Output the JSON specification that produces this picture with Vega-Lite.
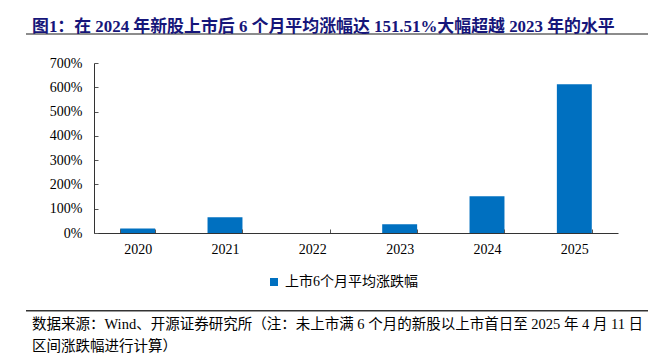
{
  "$schema": "https://vega.github.io/schema/vega-lite/v6.json",
  "padding": {"left": 26, "top": 18, "right": 0, "bottom": 0},
  "background": "white",
  "config": {
    "view": {"stroke": null},
    "font": "Liberation Serif, Noto Sans CJK SC",
    "concat": {"spacing": 21}
  },
  "resolve": {"legend": {"color": "independent"}, "scale": {"color": "independent"}},
  "datasets": {
    "ipo": [
      {"year": "2020", "change": 19, "series": "上市6个月平均涨跌幅"},
      {"year": "2021", "change": 65, "series": "上市6个月平均涨跌幅"},
      {"year": "2022", "change": 0, "series": "上市6个月平均涨跌幅"},
      {"year": "2023", "change": 36, "series": "上市6个月平均涨跌幅"},
      {"year": "2024", "change": 151.51, "series": "上市6个月平均涨跌幅"},
      {"year": "2025", "change": 612, "series": "上市6个月平均涨跌幅"}
    ],
    "empty": []
  },
  "vconcat": [
    {
      "width": 622,
      "height": 2,
      "view": {"fill": "#8c8c8c", "stroke": null},
      "title": {
        "text": "图1：在 2024 年新股上市后 6 个月平均涨幅达 151.51%大幅超越 2023 年的水平",
        "anchor": "start",
        "dx": 6,
        "fontSize": 16.9,
        "fontWeight": "bold",
        "color": "#16167a",
        "font": "Liberation Serif, Noto Sans CJK SC",
        "offset": -3
      },
      "data": {"name": "empty"},
      "mark": "rule",
      "encoding": {}
    },
    {
      "width": 622,
      "height": 170,
      "data": {"name": "ipo"},
      "mark": {"type": "bar", "color": "#0070C0"},
      "encoding": {
        "x": {
          "field": "year",
          "type": "nominal",
          "scale": {"range": [68, 592], "paddingInner": 0.6, "paddingOuter": 0.3},
          "axis": {
            "title": null,
            "labelAngle": 0,
            "tickBand": "extent",
            "tickSize": -4,
            "labelPadding": 13,
            "labelFontSize": 14,
            "labelColor": "#000",
            "labelFont": "Liberation Serif",
            "domainColor": "#333",
            "tickColor": "#555",
            "zindex": 1
          }
        },
        "y": {
          "field": "change",
          "type": "quantitative",
          "scale": {"domain": [0, 700]},
          "axis": {
            "title": null,
            "grid": false,
            "offset": -68,
            "values": [0, 100, 200, 300, 400, 500, 600, 700],
            "labelExpr": "datum.value + '%'",
            "tickSize": -4,
            "labelPadding": 16,
            "labelFontSize": 14,
            "labelColor": "#000",
            "labelFont": "Liberation Serif",
            "domainColor": "#333",
            "tickColor": "#555",
            "zindex": 1
          }
        },
        "color": {
          "field": "series",
          "type": "nominal",
          "scale": {"range": ["#0070C0"]},
          "legend": {
            "orient": "none",
            "legendX": 241,
            "legendY": 212,
            "padding": 0,
            "title": null,
            "symbolType": "square",
            "symbolSize": 64,
            "symbolStrokeWidth": 0,
            "labelFontSize": 14,
            "labelFont": "Liberation Serif, Noto Sans CJK SC",
            "labelColor": "#000",
            "labelOffset": 4
          }
        }
      }
    },
    {
      "width": 622,
      "height": 1.5,
      "view": {"fill": "#333333", "stroke": null},
      "title": {
        "text": [
          "数据来源：Wind、开源证券研究所（注：未上市满 6 个月的新股以上市首日至 2025 年 4 月 11 日",
          "区间涨跌幅进行计算）"
        ],
        "orient": "bottom",
        "anchor": "start",
        "dx": 6,
        "fontSize": 14.5,
        "fontWeight": "normal",
        "color": "#000",
        "lineHeight": 22,
        "font": "Liberation Serif, Noto Sans CJK SC",
        "offset": 6
      },
      "data": {"name": "empty"},
      "mark": "rule",
      "encoding": {}
    }
  ]
}
